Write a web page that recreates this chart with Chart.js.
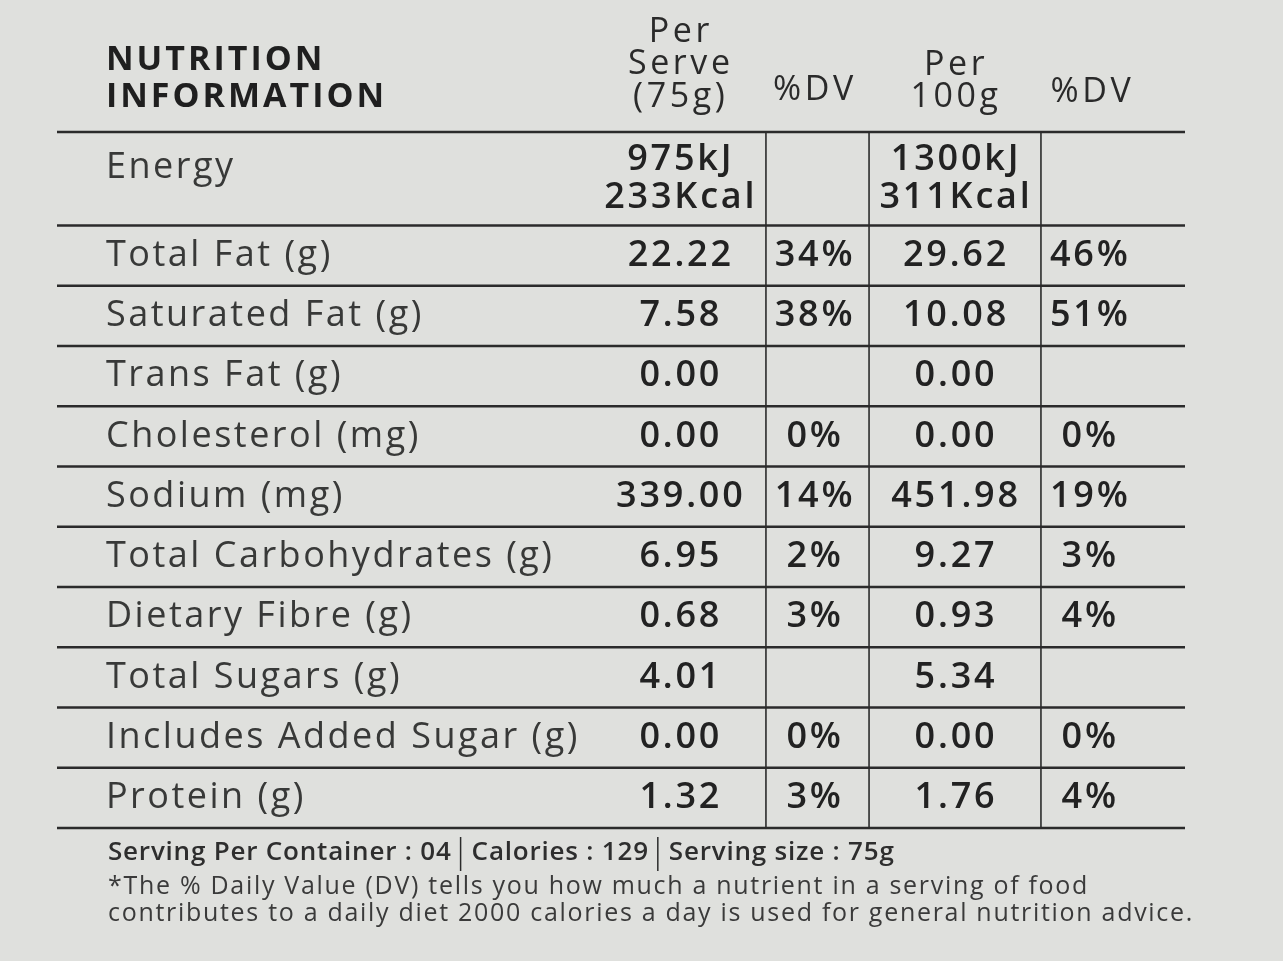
<!DOCTYPE html>
<html>
<head>
<meta charset="utf-8">
<script src="https://cdn.jsdelivr.net/npm/chart.js@4.4.1/dist/chart.umd.min.js"></script>
<style>
  html, body { margin: 0; padding: 0; background: #dfe0dd; }
  #wrap { width: 1283px; height: 961px; position: relative; }
</style>
</head>
<body>
<div id="wrap"><canvas id="nutrition-chart"></canvas></div>
<script>
// table content
const nutrients = ['Energy', 'Total Fat (g)', 'Saturated Fat (g)', 'Trans Fat (g)', 'Cholesterol (mg)',
  'Sodium (mg)', 'Total Carbohydrates (g)', 'Dietary Fibre (g)', 'Total Sugars (g)',
  'Includes Added Sugar (g)', 'Protein (g)'];
const perServe = [['975kJ', '233Kcal'], '22.22', '7.58', '0.00', '0.00', '339.00', '6.95', '0.68', '4.01', '0.00', '1.32'];
const dvServe = ['', '34%', '38%', '', '0%', '14%', '2%', '3%', '', '0%', '3%'];
const per100g = [['1300kJ', '311Kcal'], '29.62', '10.08', '0.00', '0.00', '451.98', '9.27', '0.93', '5.34', '0.00', '1.76'];
const dv100g = ['', '46%', '51%', '', '0%', '19%', '3%', '4%', '', '0%', '4%'];
const headers = [['NUTRITION', 'INFORMATION'], ['Per', 'Serve', '(75g)'], ['%DV'], ['Per', '100g'], ['%DV']];
const footerFacts = ['Serving Per Container : 04', 'Calories : 129', 'Serving size : 75g'];
const footNote = ['*The % Daily Value (DV) tells you how much a nutrient in a serving of food',
  'contributes to a daily diet 2000 calories a day is used for general nutrition advice.'];

const ENERGY_H = 1.55;           // energy row is taller than the rest
const colEdges = [0, 0.6285, 0.7199, 0.8723, 1];
const FONT = '"Open Sans", "DejaVu Sans", sans-serif';

function rowCenter(i) { return i === 0 ? ENERGY_H / 2 : ENERGY_H + (i - 1) + 0.5; }

const columns = [
  { texts: nutrients, xc: 0.0434, align: 'left', weight: '400', color: '#383938', spacing: '2.5px' },
  { texts: perServe, xc: 0.553, align: 'center', weight: '600', color: '#222', spacing: '2.8px' },
  { texts: dvServe, xc: 0.672, align: 'center', weight: '600', color: '#222', spacing: '2.8px' },
  { texts: per100g, xc: 0.797, align: 'center', weight: '600', color: '#222', spacing: '2.8px' },
  { texts: dv100g, xc: 0.916, align: 'center', weight: '600', color: '#222', spacing: '2.8px' }
];

const tablePlugin = {
  id: 'tablePlugin',
  afterDatasetsDraw(chart) {
    const ctx = chart.ctx;
    const xs = chart.scales.x, ys = chart.scales.y;
    const left = xs.getPixelForValue(0), right = xs.getPixelForValue(1);
    ctx.save();
    // grid lines
    ctx.strokeStyle = '#2b2b2b';
    ctx.lineWidth = 2.5;
    const hLines = [0];
    for (let k = 0; k < nutrients.length; k++) hLines.push(ENERGY_H + k);
    hLines.forEach(v => {
      const y = ys.getPixelForValue(v);
      ctx.beginPath(); ctx.moveTo(left, y); ctx.lineTo(right, y); ctx.stroke();
    });
    ctx.lineWidth = 1.6;
    colEdges.slice(1, 4).forEach(c => {
      const x = xs.getPixelForValue(c);
      ctx.beginPath();
      ctx.moveTo(x, ys.getPixelForValue(0));
      ctx.lineTo(x, ys.getPixelForValue(ENERGY_H + nutrients.length - 1));
      ctx.stroke();
    });

    // cell texts, placed at the (invisible) scatter points
    ctx.textBaseline = 'middle';
    chart.data.datasets.forEach((ds, d) => {
      const col = columns[d];
      const meta = chart.getDatasetMeta(d);
      ctx.fillStyle = col.color;
      ctx.textAlign = col.align;
      ctx.font = col.weight + ' 36px ' + FONT;
      ctx.letterSpacing = col.spacing;
      meta.data.forEach((pt, i) => {
        const t = col.texts[i];
        if (Array.isArray(t)) {
          ctx.fillText(t[0], pt.x, pt.y - 19);
          ctx.fillText(t[1], pt.x, pt.y + 19);
        } else if (d === 0 && i === 0) {
          ctx.fillText(t, pt.x, pt.y - 11);
        } else {
          ctx.fillText(t, pt.x, pt.y);
        }
      });
    });

    // header
    ctx.fillStyle = '#1f1f1f';
    ctx.textAlign = 'left';
    ctx.font = '700 34px ' + FONT;
    ctx.letterSpacing = '3px';
    ctx.fillText(headers[0][0], xs.getPixelForValue(0.0434), ys.getPixelForValue(-1.19));
    ctx.fillText(headers[0][1], xs.getPixelForValue(0.0434), ys.getPixelForValue(-0.58));
    ctx.font = '400 34px ' + FONT;
    ctx.fillStyle = '#2a2a2a';
    ctx.textAlign = 'center';
    ctx.letterSpacing = '3.6px';
    const hy1 = [-1.66, -1.12, -0.58];
    headers[1].forEach((t, i) => ctx.fillText(t, xs.getPixelForValue(0.553), ys.getPixelForValue(hy1[i])));
    ctx.fillText(headers[2][0], xs.getPixelForValue(0.672), ys.getPixelForValue(-0.70));
    const hy3 = [-1.11, -0.58];
    headers[3].forEach((t, i) => ctx.fillText(t, xs.getPixelForValue(0.797), ys.getPixelForValue(hy3[i])));
    ctx.fillText(headers[4][0], xs.getPixelForValue(0.918), ys.getPixelForValue(-0.66));

    // footer
    const bottom = ys.getPixelForValue(ENERGY_H + nutrients.length - 1);
    const fx = xs.getPixelForValue(0.0452);
    ctx.textAlign = 'left';
    ctx.fillStyle = '#2e2e2e';
    ctx.font = '600 26px ' + FONT;
    ctx.letterSpacing = '0.8px';
    let x = fx;
    footerFacts.forEach((t, i) => {
      ctx.fillText(t, x, bottom + 25);
      x += ctx.measureText(t).width;
      if (i < footerFacts.length - 1) {
        x += 9;
        ctx.lineWidth = 1.5;
        ctx.beginPath(); ctx.moveTo(x, bottom + 9); ctx.lineTo(x, bottom + 43); ctx.stroke();
        x += 11;
      }
    });
    ctx.font = '400 25px ' + FONT;
    ctx.fillStyle = '#3a3a3a';
    ctx.letterSpacing = '1.7px';
    ctx.fillText(footNote[0], fx, bottom + 59);
    ctx.fillText(footNote[1], fx, bottom + 86);
    ctx.restore();
  }
};

new Chart(document.getElementById('nutrition-chart').getContext('2d'), {
  type: 'scatter',
  data: {
    datasets: columns.map(col => ({
      data: col.texts.map((t, i) => ({ x: col.xc, y: rowCenter(i) })),
      pointRadius: 0,
      pointHoverRadius: 0
    }))
  },
  options: {
    responsive: true,
    maintainAspectRatio: false,
    animation: false,
    events: [],
    layout: { padding: { left: 57, right: 98, top: 132, bottom: 133 } },
    plugins: { legend: { display: false }, tooltip: { enabled: false } },
    scales: {
      x: { type: 'linear', min: 0, max: 1, display: false },
      y: { type: 'linear', min: 0, max: ENERGY_H + nutrients.length - 1, reverse: true, display: false }
    }
  },
  plugins: [tablePlugin]
});
</script>
</body>
</html>
